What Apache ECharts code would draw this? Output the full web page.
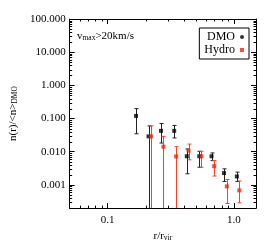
<!DOCTYPE html>
<html><head><meta charset="utf-8">
<script src="https://cdn.jsdelivr.net/npm/echarts@6/dist/echarts.min.js"></script>
<style>html,body{margin:0;padding:0;background:#fff}#c{width:273px;height:247px}</style>
</head><body><div id="c"></div>
<script>
// ---- data ----
const dmoX  = [0.168, 0.211, 0.265, 0.337, 0.424, 0.533, 0.666, 0.837, 1.058];
const dmoY  = [0.12, 0.029, 0.0426, 0.0426, 0.0073, 0.0073, 0.0073, 0.00227, 0.0018];
const dmoHi = [0.199, 0.060, 0.071, 0.0618, 0.0121, 0.0103, 0.0092, 0.00305, 0.00243];
const dmoLo = [0.0347, 0, 0.0183, 0.026, 0.00216, 0.0034, 0.0054, 0.00127, 0.00127]; // 0 = extends below axis

const hydroX  = [0.221, 0.277, 0.349, 0.438, 0.554, 0.699, 0.881, 1.106];
const hydroY  = [0.029, 0.0142, 0.0072, 0.0108, 0.0073, 0.00367, 0.000903, 0.000686];
const hydroHi = [0.060, 0.029, 0.0142, 0.017, 0.0103, 0.0054, 0.00146, 0.00131];
const hydroLo = [0, 0, 0, 0.0057, 0.0034, 0.00185, 0.000275, 0.000288];

const xRange = [0.05, 1.5];
const yRange = [2e-4, 100];
const xMajorTicks = [0.1, 1.0];
const yMajorTicks = [0.001, 0.01, 0.1, 1, 10, 100];

// ---- build ----
const FONT = '"Liberation Serif", "DejaVu Serif", serif';
const BLACK = '#000', RED = '#ff2200', RED_BAR = '#ff4020', BLACK_BAR = '#222';

function minorList(lo, hi) {
  const out = [];
  for (let e = -5; e <= 3; e++) {
    for (let m = 2; m <= 9; m++) {
      const v = m * Math.pow(10, e);
      if (v > lo * 1.0001 && v < hi * 0.9999) out.push(+v.toPrecision(3));
    }
  }
  return out;
}
const xMinor = minorList(xRange[0], xRange[1]);
const yMinor = minorList(yRange[0], yRange[1]);

function isPow10(v) { const l = Math.log10(v); return Math.abs(l - Math.round(l)) < 1e-6; }

function errData(xs, ys, his, los) {
  return xs.map((x, i) => [x, ys[i], his[i], los[i]]);
}
function errRender(color) {
  return function (params, api) {
    const cs = params.coordSys;
    const x = api.value(0), hi = api.value(2), lo = api.value(3);
    const pHi = api.coord([x, hi]);
    const px = Math.round(pHi[0]) + 0.5;
    const bottom = cs.y + cs.height;
    let yLo, cap = lo > 0;
    if (cap) { yLo = api.coord([x, lo])[1]; } else { yLo = bottom; }
    const st = { stroke: color, lineWidth: 1 };
    const ch = [
      { type: 'line', shape: { x1: px, y1: pHi[1], x2: px, y2: yLo }, style: st },
      { type: 'line', shape: { x1: px - 2, y1: pHi[1], x2: px + 2, y2: pHi[1] }, style: st }
    ];
    if (cap) ch.push({ type: 'line', shape: { x1: px - 2, y1: yLo, x2: px + 2, y2: yLo }, style: st });
    return { type: 'group', children: ch };
  };
}

const chart = echarts.init(document.getElementById('c'), null, { renderer: 'canvas' });
const axisCommon = {
  type: 'log', logBase: 10,
  axisLine: { show: true, lineStyle: { color: BLACK, width: 1 } },
  axisTick: { show: true, inside: true, length: 5, lineStyle: { color: BLACK } },
  splitLine: { show: false },
  minorTick: { show: false },
};
chart.setOption({
  animation: false,
  backgroundColor: '#fff',
  grid: { left: 58, right: 17, top: 19, bottom: 37 },
  xAxis: [
    Object.assign({}, axisCommon, {
      min: xRange[0], max: xRange[1], position: 'bottom',
      axisLabel: { show: true, margin: 7, fontFamily: FONT, fontSize: 11, color: BLACK,
        formatter: v => (isPow10(v) && xMajorTicks.some(t => Math.abs(t - v) < 1e-9)) ? v.toFixed(1) : '' },
      name: '{a|r/r}{b|vir}', nameLocation: 'middle', nameGap: 18,
      nameTextStyle: { fontFamily: FONT, color: BLACK, rich: {
        a: { fontFamily: FONT, fontSize: 11, color: BLACK, verticalAlign: 'bottom', lineHeight: 14 },
        b: { fontFamily: FONT, fontSize: 7.5, color: BLACK, verticalAlign: 'bottom', lineHeight: 10 } } }
    }),
    Object.assign({}, axisCommon, {
      min: xRange[0], max: xRange[1], position: 'top', axisLabel: { show: false }
    })
  ],
  yAxis: [
    Object.assign({}, axisCommon, {
      min: yRange[0], max: yRange[1], position: 'left',
      axisLabel: { show: true, margin: 4, fontFamily: FONT, fontSize: 11, color: BLACK,
        formatter: v => (isPow10(v) && yMajorTicks.some(t => Math.abs(t / v - 1) < 1e-6)) ? v.toFixed(3) : '' },
      name: '{a|n(r)/<n>}{b|DMO}', nameLocation: 'middle', nameGap: 46,
      nameTextStyle: { fontFamily: FONT, color: BLACK, rich: {
        a: { fontFamily: FONT, fontSize: 11, color: BLACK, verticalAlign: 'bottom', lineHeight: 14 },
        b: { fontFamily: FONT, fontSize: 7.5, color: BLACK, verticalAlign: 'bottom', lineHeight: 10 } } }
    }),
    Object.assign({}, axisCommon, {
      min: yRange[0], max: yRange[1], position: 'right', axisLabel: { show: false }
    })
  ],
  legend: {
    right: 24, top: 28, orient: 'vertical', align: 'right',
    borderColor: BLACK, borderWidth: 1, padding: [3, 5, 3, 5], itemGap: 1,
    itemWidth: 4, itemHeight: 4,
    textStyle: { fontFamily: FONT, fontSize: 12, color: BLACK },
    data: [{ name: 'DMO', icon: 'circle' }, { name: 'Hydro', icon: 'rect' }]
  },
  graphic: [{
    type: 'text', left: 77, top: 31,
    style: { text: '{a|v}{b|max}{a|>20km/s}', rich: {
      a: { fontFamily: FONT, fontSize: 11, fill: BLACK, verticalAlign: 'bottom', lineHeight: 14 },
      b: { fontFamily: FONT, fontSize: 7.5, fill: BLACK, verticalAlign: 'bottom', lineHeight: 10 } } }
  }],
  series: [
    { type: 'custom', name: 'xminor', silent: true, xAxisIndex: 0, yAxisIndex: 0,
      data: xMinor.map(v => [v, 1]), encode: { x: 0, y: 1 },
      renderItem: function (params, api) {
        const cs = params.coordSys; const p = api.coord([api.value(0), 1]);
        const x = Math.round(p[0]) + 0.5; const st = { stroke: BLACK, lineWidth: 1 };
        return { type: 'group', children: [
          { type: 'line', shape: { x1: x, y1: cs.y + cs.height, x2: x, y2: cs.y + cs.height - 2.5 }, style: st },
          { type: 'line', shape: { x1: x, y1: cs.y, x2: x, y2: cs.y + 2.5 }, style: st } ] };
      } },
    { type: 'custom', name: 'yminor', silent: true, xAxisIndex: 0, yAxisIndex: 0,
      data: yMinor.map(v => [0.1, v]), encode: { x: 0, y: 1 },
      renderItem: function (params, api) {
        const cs = params.coordSys; const p = api.coord([0.1, api.value(1)]);
        const y = Math.round(p[1]) + 0.5; const st = { stroke: BLACK, lineWidth: 1 };
        return { type: 'group', children: [
          { type: 'line', shape: { x1: cs.x, y1: y, x2: cs.x + 2.5, y2: y }, style: st },
          { type: 'line', shape: { x1: cs.x + cs.width, y1: y, x2: cs.x + cs.width - 2.5, y2: y }, style: st } ] };
      } },
    { type: 'custom', name: 'dmoErr', silent: true, data: errData(dmoX, dmoY, dmoHi, dmoLo),
      encode: { x: 0, y: [1, 2] }, renderItem: errRender(BLACK_BAR), z: 3 },
    { type: 'custom', name: 'hydroErr', silent: true, data: errData(hydroX, hydroY, hydroHi, hydroLo),
      encode: { x: 0, y: [1, 2] }, renderItem: errRender(RED_BAR), z: 3 },
    { type: 'scatter', name: 'DMO', symbol: 'rect', symbolSize: 4, itemStyle: { color: BLACK },
      data: dmoX.map((x, i) => [x, dmoY[i]]), z: 5 },
    { type: 'scatter', name: 'Hydro', symbol: 'rect', symbolSize: 4, itemStyle: { color: RED },
      data: hydroX.map((x, i) => [x, hydroY[i]]), z: 5 }
  ]
});
</script></body></html>
